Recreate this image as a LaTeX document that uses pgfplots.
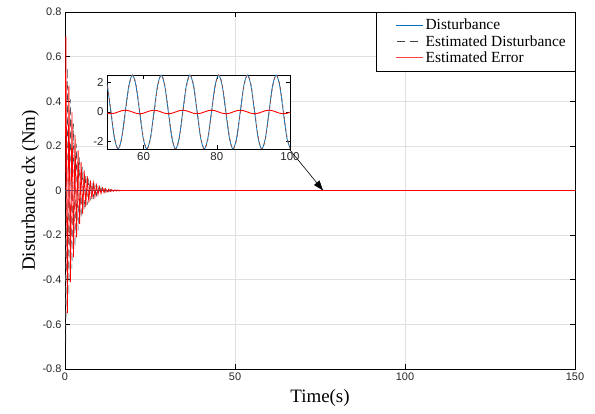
\documentclass[border=0pt]{standalone}
\usepackage{pgfplots}
\pgfplotsset{compat=1.18}
\usepackage{pgfplotstable}
\usepackage{fontspec}
\setmainfont{Liberation Serif}
\newfontfamily\arial{Liberation Sans}
\usetikzlibrary{arrows.meta}
\definecolor{mblue}{rgb}{0,0.447,0.741}
\definecolor{mbrown}{rgb}{0.62,0.33,0.25}
\definecolor{gridc}{rgb}{0.88,0.88,0.88}

\pgfplotstableread{
t e
0 0
0.25 0.69
0.70 -0.55
1.15 0.47
1.60 -0.41
2.05 0.35
2.50 -0.30
2.95 0.25
3.40 -0.21
3.85 0.18
4.30 -0.15
4.75 0.126
5.20 -0.106
5.65 0.090
6.10 -0.075
6.55 0.064
7.00 -0.054
7.45 0.045
7.90 -0.038
8.35 0.032
8.80 -0.027
9.25 0.023
9.70 -0.019
10.15 0.016
10.60 -0.0135
11.05 0.0114
11.50 -0.0096
11.95 0.0081
12.40 -0.0068
12.85 0.0058
13.30 -0.0049
13.75 0.0041
14.20 -0.0035
14.65 0.003
15.10 -0.0025
15.55 0.002
16.00 -0.0017
16.45 0
150 0
}\errtab

\pgfplotstableread{
t est
0 0
0.25 -0.69
0.70 0.55
1.15 -0.47
1.60 0.41
2.05 -0.35
2.50 0.30
2.95 -0.25
3.40 0.21
3.85 -0.18
4.30 0.15
4.75 -0.126
5.20 0.106
5.65 -0.090
6.10 0.075
6.55 -0.064
7.00 0.054
7.45 -0.045
7.90 0.038
8.35 -0.032
8.80 0.027
9.25 -0.023
9.70 0.019
10.15 -0.016
10.60 0.0135
11.05 -0.0114
11.50 0.0096
11.95 -0.0081
12.40 0.0068
12.85 -0.0058
13.30 0.0049
13.75 -0.0041
14.20 0.0035
14.65 -0.003
15.10 0.0025
15.55 -0.002
16.00 0.0017
16.45 0
150 0
}\esttab

\pgfplotstableread{
t d e est
49.087 2.5e-4 0 2.5e-4
50.069 1.768e-4 -8.5e-6 1.853e-4
51.051 0 -1.2e-5 1.2e-5
52.033 -1.768e-4 -8.5e-6 -1.683e-4
53.014 -2.5e-4 0 -2.5e-4
53.996 -1.768e-4 8.5e-6 -1.853e-4
54.978 0 1.2e-5 -1.2e-5
55.960 1.768e-4 8.5e-6 1.683e-4
56.941 2.5e-4 0 2.5e-4
57.923 1.768e-4 -8.5e-6 1.853e-4
58.905 0 -1.2e-5 1.2e-5
59.887 -1.768e-4 -8.5e-6 -1.683e-4
60.868 -2.5e-4 0 -2.5e-4
61.850 -1.768e-4 8.5e-6 -1.853e-4
62.832 0 1.2e-5 -1.2e-5
63.814 1.768e-4 8.5e-6 1.683e-4
64.795 2.5e-4 0 2.5e-4
65.777 1.768e-4 -8.5e-6 1.853e-4
66.759 0 -1.2e-5 1.2e-5
67.741 -1.768e-4 -8.5e-6 -1.683e-4
68.722 -2.5e-4 0 -2.5e-4
69.704 -1.768e-4 8.5e-6 -1.853e-4
70.686 0 1.2e-5 -1.2e-5
71.668 1.768e-4 8.5e-6 1.683e-4
72.649 2.5e-4 0 2.5e-4
73.631 1.768e-4 -8.5e-6 1.853e-4
74.613 0 -1.2e-5 1.2e-5
75.595 -1.768e-4 -8.5e-6 -1.683e-4
76.576 -2.5e-4 0 -2.5e-4
77.558 -1.768e-4 8.5e-6 -1.853e-4
78.540 0 1.2e-5 -1.2e-5
79.522 1.768e-4 8.5e-6 1.683e-4
80.503 2.5e-4 0 2.5e-4
81.485 1.768e-4 -8.5e-6 1.853e-4
82.467 0 -1.2e-5 1.2e-5
83.449 -1.768e-4 -8.5e-6 -1.683e-4
84.430 -2.5e-4 0 -2.5e-4
85.412 -1.768e-4 8.5e-6 -1.853e-4
86.394 0 1.2e-5 -1.2e-5
87.376 1.768e-4 8.5e-6 1.683e-4
88.357 2.5e-4 0 2.5e-4
89.339 1.768e-4 -8.5e-6 1.853e-4
90.321 0 -1.2e-5 1.2e-5
91.303 -1.768e-4 -8.5e-6 -1.683e-4
92.284 -2.5e-4 0 -2.5e-4
93.266 -1.768e-4 8.5e-6 -1.853e-4
94.248 0 1.2e-5 -1.2e-5
95.230 1.768e-4 8.5e-6 1.683e-4
96.211 2.5e-4 0 2.5e-4
97.193 1.768e-4 -8.5e-6 1.853e-4
98.175 0 -1.2e-5 1.2e-5
99.157 -1.768e-4 -8.5e-6 -1.683e-4
100.138 -2.5e-4 0 -2.5e-4
}\insettab

\begin{document}
\begin{tikzpicture}
\useasboundingbox (0bp,0bp) rectangle (595bp,414bp);
\begin{axis}[
  at={(65bp,45bp)}, anchor=south west,
  scale only axis, width=510bp, height=357bp,
  xmin=0, xmax=150, ymin=-0.8, ymax=0.8,
  xtick={0,50,100,150},
  ytick={-0.8,-0.6,-0.4,-0.2,0,0.2,0.4,0.6,0.8},
  yticklabels={-0.8,-0.6,-0.4,-0.2,0,0.2,0.4,0.6,0.8},
  /pgf/number format/assume math mode=true,
  tick label style={font=\arial\fontsize{11}{13}\selectfont, text=black!85},
  grid=major, grid style={gridc, line width=0.5bp},
  tick align=inside, major tick length=5bp,
  tick style={black, line width=0.5bp},
  axis line style={black, line width=0.7bp},
  xlabel={Time(s)}, ylabel={Disturbance dx (Nm)},
  label style={font=\fontsize{19}{22}\selectfont},
  xlabel style={at={(axis description cs:0.5,-0.082)}, anchor=center},
  ylabel style={at={(axis description cs:-0.068,0.5)}, anchor=center},
  legend style={at={(1,1)}, anchor=north east, fill=white,
    font=\fontsize{15.5}{18}\selectfont, inner xsep=7bp, inner ysep=5bp, row sep=0bp},
  legend cell align=left,
]
\addplot[draw=mblue, line width=0.7bp, forget plot] coordinates {(0,0) (150,0)};
\addplot[draw=black!70, line width=0.5bp, dash pattern=on 7bp off 5bp, forget plot] table[x=t,y=est]{\esttab};
\addplot[draw=red, line width=0.8bp, forget plot] table[x=t,y=e]{\errtab};
\addlegendimage{legend image code/.code={\path (-13bp,0bp); \draw[mblue, line width=1.1bp] (0bp,0bp) -- (27bp,0bp);}}
\addlegendentry{Disturbance}
\addlegendimage{legend image code/.code={\path (-13bp,0bp); \draw[black!75, line width=0.9bp, dash pattern=on 8bp off 5bp] (1bp,0bp) -- (27bp,0bp);}}
\addlegendentry{Estimated Disturbance}
\addlegendimage{legend image code/.code={\path (-13bp,0bp); \draw[red!75, line width=1.1bp] (0bp,0bp) -- (27bp,0bp);}}
\addlegendentry{Estimated Error}
\draw[-{Triangle[length=10bp,width=7bp]}, line width=0.6bp] (axis cs:66.2,0.181) -- (axis cs:75.9,0);
\end{axis}
\begin{axis}[
  at={(107bp,265bp)}, anchor=south west,
  scale only axis, width=183bp, height=74bp,
  xmin=50, xmax=100, ymin=-2.5e-4, ymax=2.5e-4,
  xtick={60,80,100},
  ytick={-2e-4,0,2e-4}, yticklabels={-2,0,2},
  scaled y ticks=false,
  /pgf/number format/assume math mode=true,
  tick label style={font=\arial\fontsize{11.5}{14}\selectfont, text=black!85},
  tick align=inside, major tick length=4bp,
  tick style={black, line width=0.5bp},
  axis line style={black, line width=0.7bp},
  axis background/.style={fill=white},
]
\addplot[draw=mblue, line width=0.8bp, smooth] table[x=t,y=d]{\insettab};
\addplot[draw=mbrown, line width=0.8bp, smooth, dash pattern=on 3bp off 3bp] table[x=t,y=est]{\insettab};
\addplot[draw=red, line width=0.9bp, smooth] table[x=t,y=e]{\insettab};
\node[anchor=south west, inner sep=1bp, font=\arial\fontsize{11.5}{14}\selectfont] at (rel axis cs:0,1) {{\color{gray}×} 10\textsuperscript{-4}};
\end{axis}
\end{tikzpicture}
\end{document}
